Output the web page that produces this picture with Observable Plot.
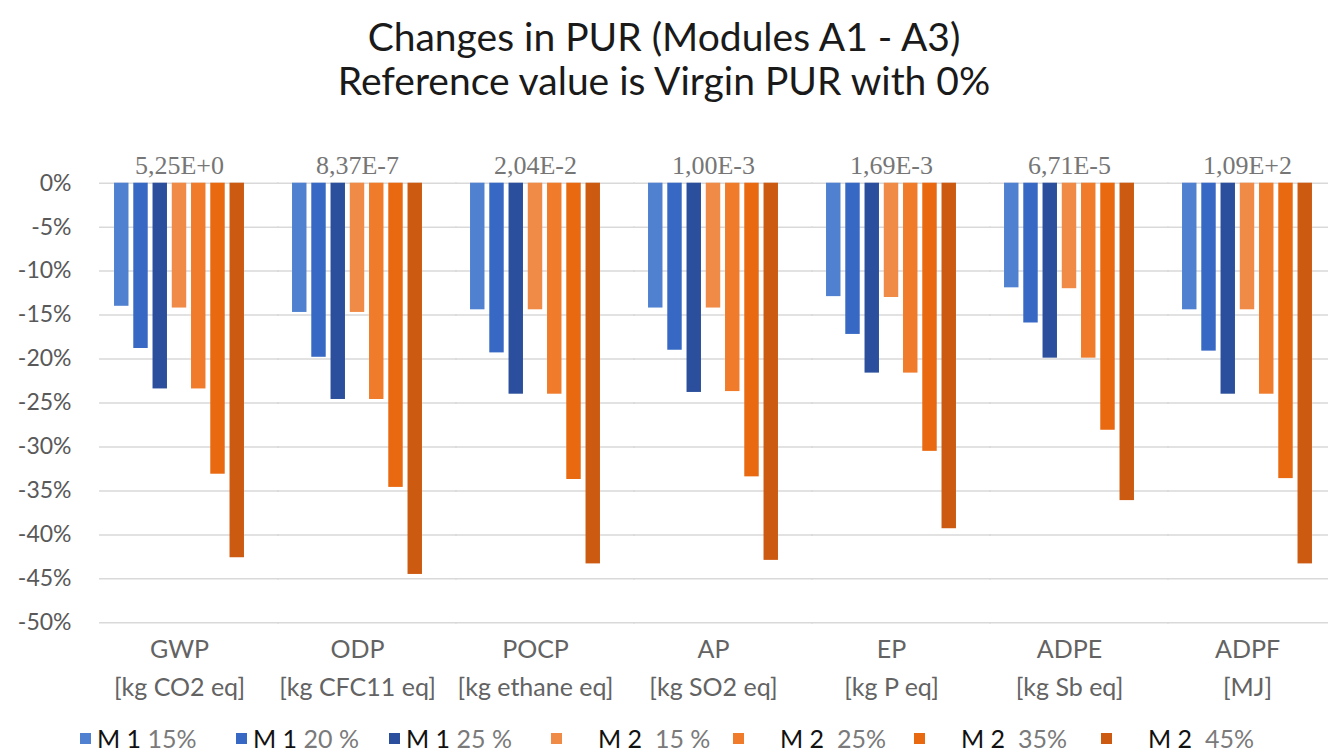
<!DOCTYPE html>
<html>
<head>
<meta charset="utf-8">
<script src="https://cdn.jsdelivr.net/npm/d3@7"></script>
<script src="https://cdn.jsdelivr.net/npm/@observablehq/plot@0.6"></script>
<style>
  html, body { margin: 0; padding: 0; background: #fff; }
  body { width: 1328px; height: 751px; overflow: hidden; position: relative; font-family: Lato, "Open Sans", sans-serif; }
  #title { position: absolute; left: 0; top: 14px; width: 1328px; text-align: center; color: #1a1a1a; font-size: 39px; line-height: 44px; }
  #chart { position: absolute; left: 0; top: 130px; }
  #legend { position: absolute; left: 0; top: 723px; width: 1328px; height: 30px; }
  .item { position: absolute; top: 0; display: flex; align-items: center; font-size: 25px; white-space: pre; }
  .sw { width: 11px; height: 11px; display: inline-block; margin-right: 6px; }
  .pre { color: #111; }
  .suf { color: #7a7a7a; }
</style>
</head>
<body>
<div id="title">Changes in PUR (Modules A1 - A3)<br>Reference value is Virgin PUR with 0%</div>
<div id="chart"></div>
<div id="legend"></div>
<script>
const categories = ["GWP", "ODP", "POCP", "AP", "EP", "ADPE", "ADPF"];
const units = ["[kg CO2 eq]", "[kg CFC11 eq]", "[kg ethane eq]", "[kg SO2 eq]", "[kg P eq]", "[kg Sb eq]", "[MJ]"];
const refValues = ["5,25E+0", "8,37E-7", "2,04E-2", "1,00E-3", "1,69E-3", "6,71E-5", "1,09E+2"];
const series = ["M 1 15%", "M 1 20 %", "M 1 25 %", "M 2 15 %", "M 2 25%", "M 2 35%", "M 2 45%"];
const colors = ["#4f81d0", "#3668c4", "#2b4f9c", "#f08b47", "#ef7b2b", "#e8690f", "#cc5a10"];
const m1_15 = [-14.0, -14.7, -14.4, -14.2, -12.9, -11.9, -14.4];
const m1_20 = [-18.8, -19.8, -19.3, -19.0, -17.2, -15.9, -19.1];
const m1_25 = [-23.4, -24.6, -24.0, -23.8, -21.6, -19.9, -24.0];
const m2_15 = [-14.2, -14.7, -14.4, -14.2, -13.0, -12.0, -14.4];
const m2_25 = [-23.4, -24.6, -24.0, -23.7, -21.6, -19.9, -24.0];
const m2_35 = [-33.1, -34.6, -33.7, -33.4, -30.5, -28.1, -33.6];
const m2_45 = [-42.6, -44.5, -43.3, -42.9, -39.3, -36.1, -43.3];
const yTicks = [0, -5, -10, -15, -20, -25, -30, -35, -40, -45, -50];

const seriesValues = [m1_15, m1_20, m1_25, m2_15, m2_25, m2_35, m2_45];
const rows = [];
series.forEach((s, si) => categories.forEach((c, ci) => rows.push({cat: c, series: s, value: seriesValues[si][ci]})));
const tops = categories.map((c, i) => ({cat: c, label: refValues[i]}));
const unitOf = new Map(categories.map((c, i) => [c, units[i]]));

const chart = Plot.plot({
  width: 1328,
  height: 590,
  marginTop: 52.7,
  marginBottom: 97.7,
  marginLeft: 90,
  marginRight: 0,
  style: {fontFamily: "Lato, 'Open Sans', sans-serif", background: "transparent"},
  fx: {domain: categories, range: [90, 1336], paddingInner: 0.27, paddingOuter: 0.135, round: false, label: null},
  x: {domain: series, paddingInner: 0.25, paddingOuter: 0, round: false, axis: null},
  y: {domain: [-50, 0], label: null},
  color: {domain: series, range: colors},
  marks: [
    Plot.ruleY(yTicks, {y: d => d, stroke: "#d9d9d9", strokeWidth: 1.5, insetLeft: -15, insetRight: -35}),
    Plot.barY(rows, {fx: "cat", x: "series", y1: 0, y2: "value", fill: "series"}),
    Plot.text(tops, {fx: "cat", text: "label", frameAnchor: "top", lineAnchor: "middle", dy: -18, fontFamily: "'Liberation Serif', serif", fontSize: 26, fill: "#767676"}),
    Plot.axisY({ticks: yTicks, tickFormat: d => d + "%", tickSize: 0, tickPadding: 43, fontSize: 23, fill: "#595959", label: null}),
    Plot.axisFx({anchor: "bottom", tickSize: 0, tickPadding: 8, fontSize: 25, fill: "#636363", lineHeight: 1.52, tickFormat: c => c + "\n" + unitOf.get(c), label: null})
  ]
});
document.getElementById("chart").appendChild(chart);

const legendLeft = [80, 236, 389, 551, 733, 914, 1101];
const legendGap = [6, 6, 6, 36, 36, 36, 36];
const legend = document.getElementById("legend");
series.forEach((s, i) => {
  const parts = s.split(" ");
  const pre = parts.slice(0, 2).join(" ");
  const suf = parts.slice(2).join(" ");
  const item = document.createElement("div");
  item.className = "item";
  item.style.left = legendLeft[i] + "px";
  item.innerHTML = `<span class="sw" style="background:${colors[i]};margin-right:${legendGap[i]}px"></span><span class="pre">${pre}</span><span class="suf">${i >= 3 ? "  " : " "}${suf}</span>`;
  legend.appendChild(item);
});
</script>
</body>
</html>
